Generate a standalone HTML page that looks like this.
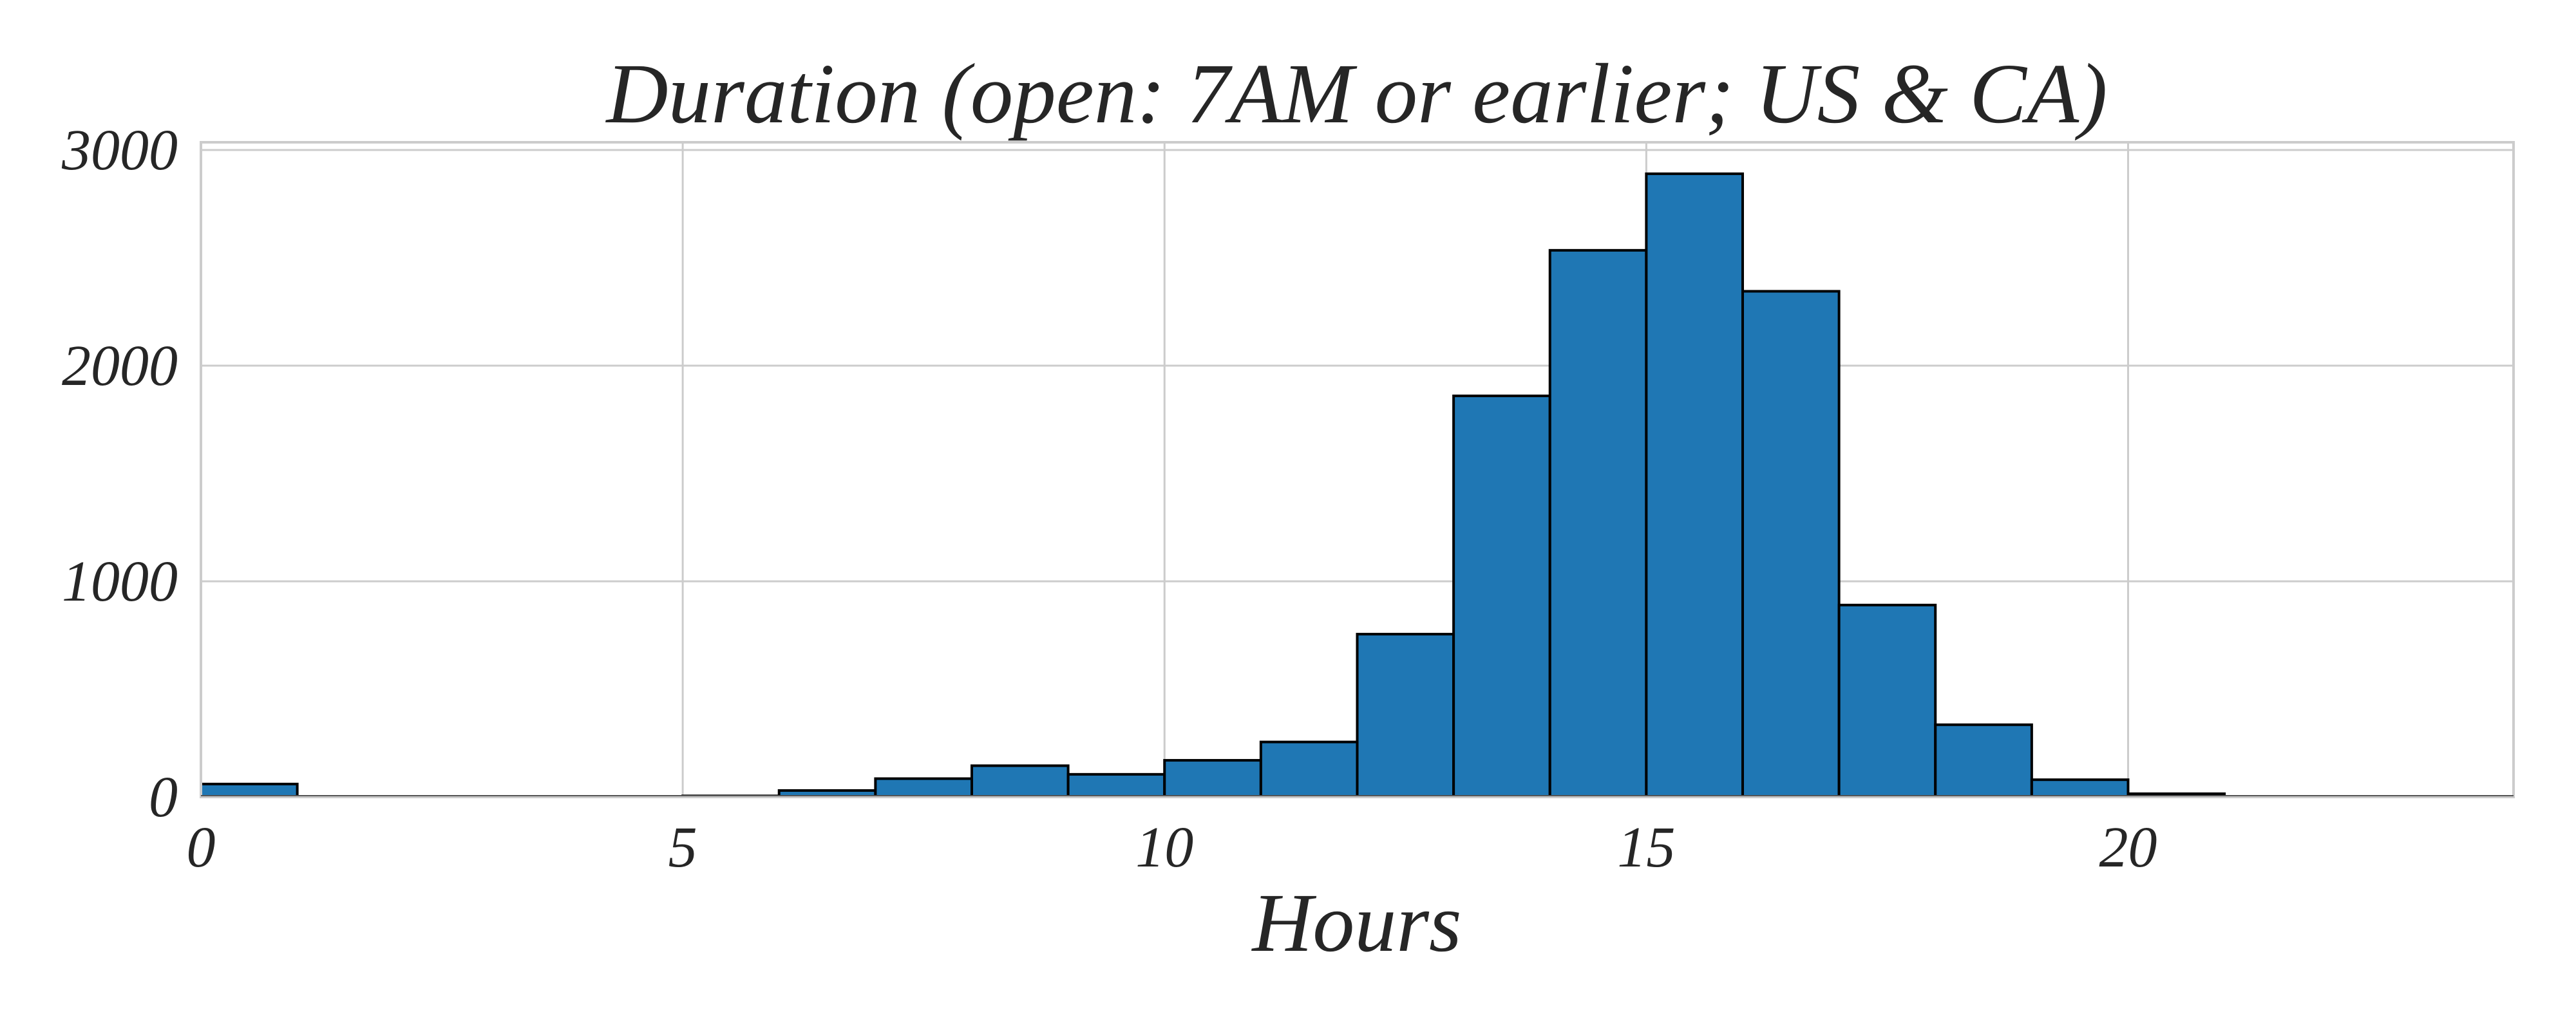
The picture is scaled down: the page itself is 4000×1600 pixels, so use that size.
<!DOCTYPE html>
<html><head><meta charset="utf-8"><style>
html,body{margin:0;padding:0;background:#fff;}
svg{display:block;}
text{font-family:"Liberation Serif",serif;font-style:italic;fill:#262626;}
</style></head><body>
<svg id="chart" width="4000" height="1600" viewBox="0 0 4000 1600" xmlns="http://www.w3.org/2000/svg">
<rect x="0" y="0" width="4000" height="1600" fill="#fff"/>
<g id="grid"></g>
<g id="bars"></g>
<g id="axes"></g>
<text x="2107" y="190" font-size="133" text-anchor="middle">Duration (open: 7AM or earlier; US &amp; CA)</text>
<text x="2107" y="1477" font-size="130" text-anchor="middle">Hours</text>
</svg>
<script>
const binEdgesStart = [0,1,2,3,4,5,6,7,8,9,10,11,12,13,14,15,16,17,18,19,20,21,22,23];
const counts = [60,0,0,0,0,5,30,85,145,105,170,255,755,1860,2535,2890,2345,890,335,80,15,0,0,0];
const xTicks = [0,5,10,15,20];
const xTickLabels = ["0","5","10","15","20"];
const yTicks = [0,1000,2000,3000];
const yTickLabels = ["0","1000","2000","3000"];
const binWidth = 1;

const L=312,R=3903,T=221,B=1238,XMAX=24,YMAX=3036;
const xs=v=>L+(v/XMAX)*(R-L);
const ys=v=>B-(v/YMAX)*(B-T);
const NS="http://www.w3.org/2000/svg";
function mk(tag,attrs,parent){const e=document.createElementNS(NS,tag);for(const k in attrs)e.setAttribute(k,attrs[k]);parent.appendChild(e);return e;}
const grid=document.getElementById('grid'),bars=document.getElementById('bars'),axes=document.getElementById('axes');

xTicks.forEach((t,i)=>{
  const l=mk('line',{x1:xs(t),x2:xs(t),y1:T,y2:B,stroke:'#cccccc','stroke-width':3},grid);
  
  
  const tx=mk('text',{x:xs(t),y:1346,'font-size':90,'text-anchor':'middle'},axes);
  tx.textContent=xTickLabels[i];
  
  
});
yTicks.forEach((t,i)=>{
  const l=mk('line',{x1:L,x2:R,y1:ys(t),y2:ys(t),stroke:'#cccccc','stroke-width':3},grid);
  
  
  const tx=mk('text',{x:276,y:ys(t)+30,'font-size':90,'text-anchor':'end'},axes);
  tx.textContent=yTickLabels[i];
  
  
});
counts.forEach((c,i)=>{
  if(c<=0)return;
  const x0=xs(binEdgesStart[i]),x1=xs(binEdgesStart[i]+binWidth);
  const r=mk('rect',{x:x0,y:ys(c),width:x1-x0,height:B-ys(c),fill:'#1f77b4',stroke:'#000','stroke-width':4},bars);
  
  
});
const sp=mk('rect',{x:L,y:T,width:R-L,height:B-T,fill:'none',stroke:'#cccccc','stroke-width':4},axes);


const bl=mk('line',{x1:L,x2:R,y1:B-2,y2:B-2,stroke:'#555','stroke-width':2},axes);


</script>
</body></html>
